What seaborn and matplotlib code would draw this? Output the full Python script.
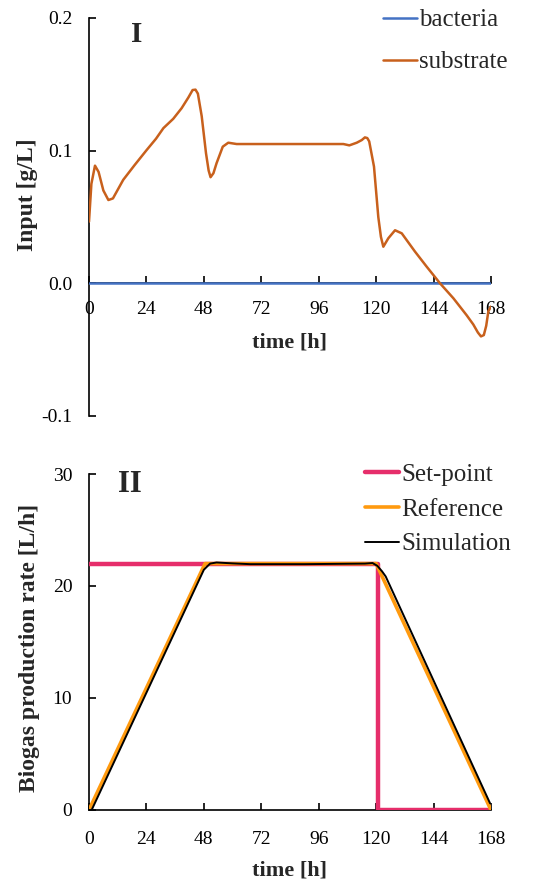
import numpy as np
import pandas as pd
import matplotlib
matplotlib.use("Agg")
import matplotlib.pyplot as plt
import seaborn as sns

# ---- data (panel I) ----
t_sub = [0, 1.0, 2.5, 4.0, 6.0, 8.1, 10.0, 14.3, 19.0, 24.1, 28.0, 31.1, 35.2, 38.7, 41.5, 43.3, 44.5, 45.5,
         47.1, 48.9, 50.0, 50.8, 52.0, 53.3, 55.9, 58.2, 61.7, 80.0, 100.0, 106.3, 108.8, 111.9, 114.0,
         115.3, 116.3, 117.1, 119.1, 120.9, 122.0, 123.0, 125.1, 127.9, 130.7, 136.2, 141.1, 146.7,
         152.3, 157.8, 160.6, 162.5, 163.8, 165.0, 166.0, 166.9, 168.0]
substrate = [0.0465, 0.075, 0.0887, 0.084, 0.070, 0.0628, 0.064, 0.078, 0.089, 0.1005, 0.109, 0.117, 0.124,
             0.132, 0.140, 0.1457, 0.1460, 0.143, 0.126, 0.098, 0.085, 0.080, 0.083, 0.0905, 0.103, 0.106,
             0.105, 0.105, 0.105, 0.105, 0.104, 0.106, 0.108, 0.110, 0.1095, 0.107, 0.088, 0.050, 0.035,
             0.0276, 0.034, 0.040, 0.0377, 0.024, 0.0126, 0.0, -0.0113, -0.024, -0.031, -0.037, -0.040,
             -0.039, -0.032, -0.021, -0.0175]
t_bac = [0, 168]
bacteria = [0.0, 0.0]

# ---- data (panel II) ----
t_set = [0, 120.9, 120.9, 166.9]
setpoint = [22, 22, 0, 0]
t_ref = [0, 48.5, 120, 168]
reference = [0, 22, 22, 0]
t_sim = [0, 1.1, 48.0, 50.6, 53.3, 60.0, 67.3, 90.0, 115.3, 118.5, 120.5, 122.5, 124.0, 167.6]
simulation = [0.0, 0.0, 21.45, 22.0, 22.1, 22.02, 21.95, 21.95, 22.0, 22.05, 21.8, 21.3, 20.85, 0.6]

x_ticks = [0, 24, 48, 72, 96, 120, 144, 168]
y1_ticks = [-0.1, 0.0, 0.1, 0.2]
y1_labels = ["-0.1", "0.0", "0.1", "0.2"]
y2_ticks = [0, 10, 20, 30]

sns.set_style("white")
plt.rcParams['font.family'] = ['Liberation Serif', 'DejaVu Serif']

W, H = 549, 882
fig = plt.figure(figsize=(W / 100, H / 100), dpi=100)

def box(l, t, r, b):
    return [l / W, 1 - b / H, (r - l) / W, (b - t) / H]

ax1 = fig.add_axes(box(89, 18, 491, 416))
ax2 = fig.add_axes(box(89, 474, 491, 810))

c_bac = "#4472C4"
c_sub = "#C8601C"
c_set = "#E62E6B"
c_ref = "#FF9A0F"
c_sim = "#000000"

df1a = pd.DataFrame({"t": t_bac, "v": bacteria})
df1b = pd.DataFrame({"t": t_sub, "v": substrate})
sns.lineplot(data=df1a, x="t", y="v", ax=ax1, color=c_bac, lw=1.8, label="bacteria",
             estimator=None, sort=False, zorder=4)
sns.lineplot(data=df1b, x="t", y="v", ax=ax1, color=c_sub, lw=1.8, label="substrate",
             estimator=None, sort=False, zorder=5)

df2a = pd.DataFrame({"t": t_set, "v": setpoint})
df2b = pd.DataFrame({"t": t_ref, "v": reference})
df2c = pd.DataFrame({"t": t_sim, "v": simulation})
sns.lineplot(data=df2a, x="t", y="v", ax=ax2, color=c_set, lw=3.2, label="Set-point",
             estimator=None, sort=False, zorder=3)
sns.lineplot(data=df2b, x="t", y="v", ax=ax2, color=c_ref, lw=2.6, label="Reference",
             estimator=None, sort=False, zorder=4)
sns.lineplot(data=df2c, x="t", y="v", ax=ax2, color=c_sim, lw=1.4, label="Simulation",
             estimator=None, sort=False, zorder=5)

for ax in (ax1, ax2):
    ax.set_xlim(0, 168)
    ax.set_xticks(x_ticks)
    ax.spines['top'].set_visible(False)
    ax.spines['right'].set_visible(False)
    for s in ('left', 'bottom'):
        ax.spines[s].set_color('black')
        ax.spines[s].set_linewidth(1.2)
    ax.tick_params(axis='both', direction='in', length=5, width=1.2, colors='black',
                   labelsize=14, left=True, bottom=True)
    ax.tick_params(axis='y', pad=12)
    ax.patch.set_alpha(0)

ax1.tick_params(axis='x', pad=12.5)
ax2.tick_params(axis='x', pad=14.8)

ax1.set_ylim(-0.1, 0.2)
ax1.set_yticks(y1_ticks)
ax1.set_yticklabels(y1_labels)
ax1.spines['bottom'].set_position(('data', 0))
ax1.set_ylabel("Input [g/L]", fontsize=17, fontweight='bold')
ax1.yaxis.set_label_coords(27 / W, 1 - 195 / H, transform=fig.transFigure)
ax1.set_xlabel("time [h]", fontsize=16, fontweight='bold', va='center')
ax1.xaxis.set_label_coords(290 / W, 1 - 342 / H, transform=fig.transFigure)

ax2.set_ylim(0, 30)
ax2.set_yticks(y2_ticks)
ax2.set_ylabel("Biogas production rate [L/h]", fontsize=17, fontweight='bold')
ax2.yaxis.set_label_coords(30 / W, 1 - 648 / H, transform=fig.transFigure)
ax2.set_xlabel("time [h]", fontsize=16, fontweight='bold', va='center')
ax2.xaxis.set_label_coords(290 / W, 1 - 870 / H, transform=fig.transFigure)
ax1.yaxis.label.set_va('center')
ax2.yaxis.label.set_va('center')

ax1.text(137 / W, 1 - 35 / H, "I", transform=fig.transFigure, fontsize=21, fontweight='bold',
         ha='center', va='center')
ax2.text(130 / W, 1 - 485 / H, "II", transform=fig.transFigure, fontsize=22, fontweight='bold',
         ha='center', va='center')

leg_kw = dict(loc='upper left', frameon=False, fontsize=18, handlelength=1.35,
              handletextpad=0.1, borderaxespad=0, borderpad=0)
ax1.legend(bbox_to_anchor=(383 / W, 1 - 9 / H), bbox_transform=fig.transFigure,
           labelspacing=0.77, **leg_kw)
ax2.legend(bbox_to_anchor=(365 / W, 1 - 463 / H), bbox_transform=fig.transFigure,
           labelspacing=0.5, **leg_kw)

fig.savefig("out.png", dpi=100)
